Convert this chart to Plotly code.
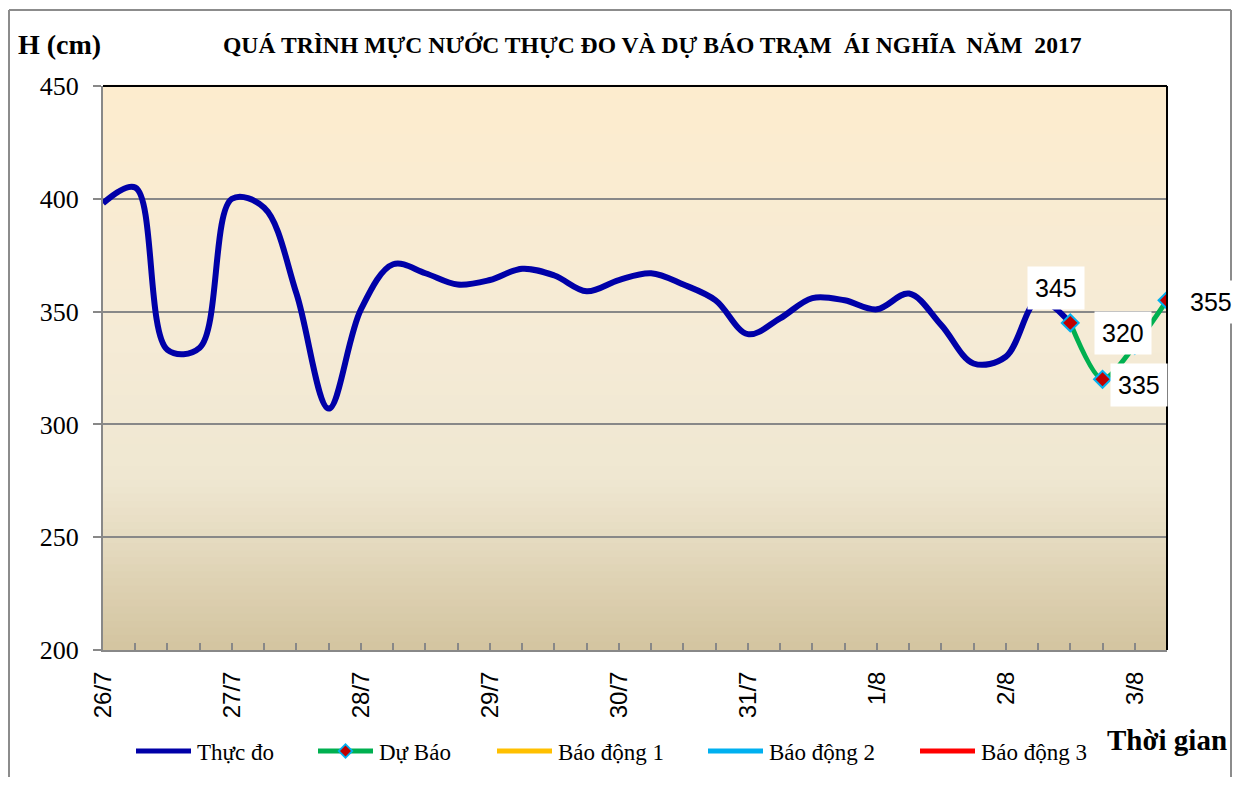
import plotly.graph_objects as go

# ---------------- data ----------------
measured = [398, 405, 333, 334, 400, 396, 358, 307, 351, 371, 367, 362, 364, 369, 366, 359,
            364, 367, 362, 355, 340, 347, 356, 355, 351, 358, 344, 327, 330, 355, 345]
forecast = [345, 320, 335, 355]
forecast_start = 30
day_labels = ["26/7", "27/7", "28/7", "29/7", "30/7", "31/7", "1/8", "2/8", "3/8"]
steps_per_day = 4
title = "QUÁ TRÌNH MỰC NƯỚC THỰC ĐO VÀ DỰ BÁO TRẠM  ÁI NGHĨA  NĂM  2017"
series_names = ["Thực đo", "Dự Báo", "Báo động 1", "Báo động 2", "Báo động 3"]
series_colors = ["#0000A8", "#00B050", "#FFC000", "#00B0F0", "#FF0000"]
# label offsets (pixels) for forecast data labels
label_offsets = [(-14, -35), (20, -46), (4, 40), (44, 2)]

# ---------------- geometry (pixels) ----------------
PAGE_OFF = 8            # browser body margin
W, H = 1241 - 2 * PAGE_OFF, 785 - 2 * PAGE_OFF
PL, PR, PT, PB = 103, 1167, 86, 650   # plot area in page pixels


def px(xp):
    return (xp - PL) / (PR - PL)


def py(yp):
    return (PB - yp) / (PB - PT)


n_total = forecast_start + len(forecast)
x_meas = list(range(len(measured)))
x_fc = list(range(forecast_start, n_total))

tickvals = list(range(n_total))
ticktext = []
for i in tickvals:
    if i % steps_per_day == 0 and i // steps_per_day < len(day_labels):
        ticktext.append(day_labels[i // steps_per_day])
    else:
        ticktext.append("")

SERIF = "Liberation Serif, Times New Roman, serif"
SANS = "Liberation Sans, Arial, sans-serif"

fig = go.Figure()

fig.add_trace(go.Scatter(
    x=x_meas, y=measured, mode="lines", name=series_names[0],
    line=dict(color=series_colors[0], width=6, shape="spline", smoothing=1.0),
))
fig.add_trace(go.Scatter(
    x=x_fc, y=forecast, mode="lines+markers", name=series_names[1],
    line=dict(color=series_colors[1], width=5, shape="spline", smoothing=0.8),
    marker=dict(symbol="diamond", size=13, color="#C00000",
                line=dict(color="#00B0F0", width=2)),
))
for name, col in zip(series_names[2:], series_colors[2:]):
    fig.add_trace(go.Scatter(
        x=[None], y=[None], mode="lines", name=name,
        line=dict(color=col, width=6),
    ))

# data labels on forecast points
for xv, yv, (ax, ay) in zip(x_fc, forecast, label_offsets):
    fig.add_annotation(
        x=xv, y=yv, text=str(yv), showarrow=True, arrowcolor="rgba(0,0,0,0)",
        ax=ax, ay=ay, font=dict(family=SANS, size=25, color="black"),
        bgcolor="white", borderpad=7,
    )

# gradient background for plot area
stops = [(0.0, (253, 236, 206)), (0.45, (245, 235, 214)), (0.7, (239, 231, 209)), (1.0, (211, 196, 160))]
N = 80
for k in range(N):
    t0 = k / N
    t1 = (k + 1) / N
    tm = (t0 + t1) / 2
    for j in range(len(stops) - 1):
        if stops[j][0] <= tm <= stops[j + 1][0]:
            a, ca = stops[j]
            b, cb = stops[j + 1]
            f = (tm - a) / (b - a)
            c = tuple(int(round(ca[m] + (cb[m] - ca[m]) * f)) for m in range(3))
            break
    fig.add_shape(type="rect", xref="x domain", yref="y domain",
                  x0=0, x1=1, y0=1 - t1, y1=1 - t0 + 0.002,
                  fillcolor="rgb(%d,%d,%d)" % c, line_width=0, layer="below")

# black top and right borders of plot area
fig.add_shape(type="line", xref="x domain", yref="y domain", x0=0, x1=1, y0=1, y1=1,
              line=dict(color="black", width=2))
fig.add_shape(type="line", xref="x domain", yref="y domain", x0=1, x1=1, y0=0, y1=1,
              line=dict(color="black", width=2))
# outer chart border (left, top, right; bottom lies beyond the page)
border = dict(color="#8C8C8C", width=2)
fig.add_shape(type="line", xref="paper", yref="paper", x0=px(9), x1=px(9), y0=py(800), y1=py(10), line=border)
fig.add_shape(type="line", xref="paper", yref="paper", x0=px(9), x1=px(1231), y0=py(10), y1=py(10), line=border)
fig.add_shape(type="line", xref="paper", yref="paper", x0=px(1231), x1=px(1231), y0=py(800), y1=py(10), line=border)

# ---------------- manual legend ----------------
legend_starts = [136, 318, 497, 708, 920]
LEG_Y = 751
LINE_LEN = 55
for name, col, xs in zip(series_names, series_colors, legend_starts):
    fig.add_shape(type="line", xref="paper", yref="paper",
                  x0=px(xs), x1=px(xs + LINE_LEN), y0=py(LEG_Y), y1=py(LEG_Y),
                  line=dict(color=col, width=5))
    fig.add_annotation(xref="paper", yref="paper", x=px(xs + LINE_LEN + 4), y=py(LEG_Y + 1),
                       text=name, showarrow=False, xanchor="left", yanchor="middle",
                       font=dict(family=SERIF, size=23, color="black"))
# diamond marker on forecast legend entry
cx = legend_starts[1] + LINE_LEN / 2
for half, fc in ((8, "#00B0F0"), (5.5, "#C00000")):
    path = "M {a},{b} L {c},{d} L {a},{e} L {f},{d} Z".format(
        a=px(cx), b=py(LEG_Y - half), c=px(cx + half), d=py(LEG_Y),
        e=py(LEG_Y + half), f=px(cx - half))
    fig.add_shape(type="path", xref="paper", yref="paper", path=path,
                  fillcolor=fc, line_width=0)

# ---------------- texts ----------------
fig.add_annotation(xref="paper", yref="paper", x=px(652), y=py(45), text="<b>" + title + "</b>",
                   showarrow=False, xanchor="center", yanchor="middle",
                   font=dict(family=SERIF, size=23.6, color="black"))
fig.add_annotation(xref="paper", yref="paper", x=px(16), y=py(45), text="<b>H (cm)</b>",
                   showarrow=False, xanchor="left", yanchor="middle",
                   font=dict(family=SERIF, size=28, color="black"))
fig.add_annotation(xref="paper", yref="paper", x=px(1229), y=py(740), text="<b>Thời gian</b>",
                   showarrow=False, xanchor="right", yanchor="middle",
                   font=dict(family=SERIF, size=29, color="black"))

fig.update_layout(
    width=W, height=H,
    margin=dict(l=PL - PAGE_OFF, r=(W + PAGE_OFF) - PR, t=PT - PAGE_OFF, b=(H + PAGE_OFF) - PB),
    paper_bgcolor="white",
    plot_bgcolor="rgba(0,0,0,0)",
    showlegend=False,
    xaxis=dict(range=[0, n_total - 1], tickvals=tickvals, ticktext=ticktext,
               tickangle=-90, ticks="inside", ticklen=7, tickcolor="#888888", tickwidth=2,
               showgrid=False, zeroline=False, showline=True, linecolor="#888888", linewidth=2,
               tickfont=dict(family=SANS, size=24, color="black"), ticklabelstandoff=10),
    yaxis=dict(range=[200, 450], tickvals=[200, 250, 300, 350, 400, 450],
               ticks="outside", ticklen=8, tickcolor="#888888", tickwidth=2,
               showgrid=True, gridcolor="#888888", gridwidth=2,
               zeroline=False, showline=True, linecolor="#888888", linewidth=2,
               tickfont=dict(family=SERIF, size=26, color="black"), ticklabelstandoff=9),
)

fig.write_html("out.html")
